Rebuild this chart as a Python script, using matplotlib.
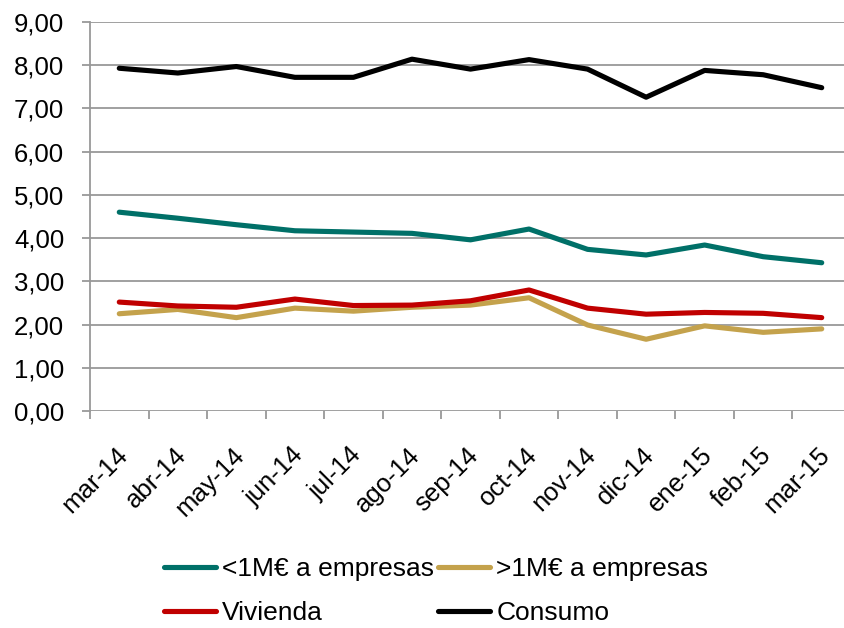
import matplotlib
matplotlib.use("Agg")
import matplotlib.pyplot as plt
from matplotlib.ticker import FuncFormatter, FixedLocator
import matplotlib.transforms as mtransforms

plt.rcParams['font.family'] = ['Liberation Sans', 'DejaVu Sans']

months = ["mar-14", "abr-14", "may-14", "jun-14", "jul-14", "ago-14", "sep-14",
          "oct-14", "nov-14", "dic-14", "ene-15", "feb-15", "mar-15"]
pymes = [4.60, 4.46, 4.31, 4.17, 4.14, 4.11, 3.96, 4.21, 3.74, 3.61, 3.84, 3.57, 3.43]
grandes = [2.25, 2.35, 2.16, 2.38, 2.31, 2.40, 2.45, 2.62, 1.99, 1.66, 1.97, 1.82, 1.90]
vivienda = [2.52, 2.43, 2.40, 2.59, 2.44, 2.45, 2.55, 2.80, 2.38, 2.24, 2.28, 2.26, 2.16]
consumo = [7.93, 7.82, 7.97, 7.72, 7.72, 8.14, 7.91, 8.13, 7.91, 7.26, 7.88, 7.78, 7.48]
yticks = [0, 1, 2, 3, 4, 5, 6, 7, 8, 9]

fig = plt.figure(figsize=(8.44, 6.28), dpi=100)
ax = fig.add_axes([90/844, 1-411/628, 761/844, 389/628])

x = list(range(len(months)))
lw = 3.7
h1, = ax.plot(x, pymes, color="#007068", lw=lw, label="<1M€ a empresas", solid_capstyle="round", zorder=3)
h2, = ax.plot(x, grandes, color="#C4A24C", lw=lw, label=">1M€ a empresas", solid_capstyle="round", zorder=3)
h3, = ax.plot(x, vivienda, color="#C00000", lw=lw, label="Vivienda", solid_capstyle="round", zorder=3)
h4, = ax.plot(x, consumo, color="#000000", lw=lw, label="Consumo", solid_capstyle="round", zorder=3)

ax.set_xlim(-0.5, len(months) - 0.5)
ax.set_ylim(0, 9)
ax.set_yticks(yticks)
ax.yaxis.set_major_formatter(FuncFormatter(lambda v, p: f"{v:.2f}".replace(".", ",")))
ax.grid(axis="y", color="#999999", lw=1.3)
ax.set_axisbelow(True)

for s in ["top", "right", "bottom"]:
    ax.spines[s].set_visible(False)
ax.spines["left"].set_color("#999999")
ax.spines["left"].set_linewidth(1.3)

# x ticks: marks at category boundaries, labels at centers
ax.xaxis.set_minor_locator(FixedLocator([i - 0.5 for i in range(len(months) + 1)]))
ax.set_xticks(x)
ax.set_xticklabels(months, rotation=45, ha="right", va="top", rotation_mode="anchor", fontsize=18.5)
ax.tick_params(axis="x", which="major", length=0, pad=23)
ax.tick_params(axis="x", which="minor", length=5.5, color="#999999", width=1.3, direction="out")
ax.tick_params(axis="y", length=5.5, color="#999999", width=1.3, labelsize=18.5, pad=13)
offset = mtransforms.ScaledTranslation(-4/100, 0, fig.dpi_scale_trans)
for lab in ax.get_xticklabels():
    lab.set_transform(lab.get_transform() + offset)

fig.legend(handles=[h1, h3, h2, h4], loc="center", bbox_to_anchor=(0.517, 0.059), ncol=2,
           frameon=False, fontsize=19, handlelength=1.95, handletextpad=0.25,
           columnspacing=0.15, labelspacing=0.75, borderpad=0)

fig.savefig("out.png", dpi=100)
